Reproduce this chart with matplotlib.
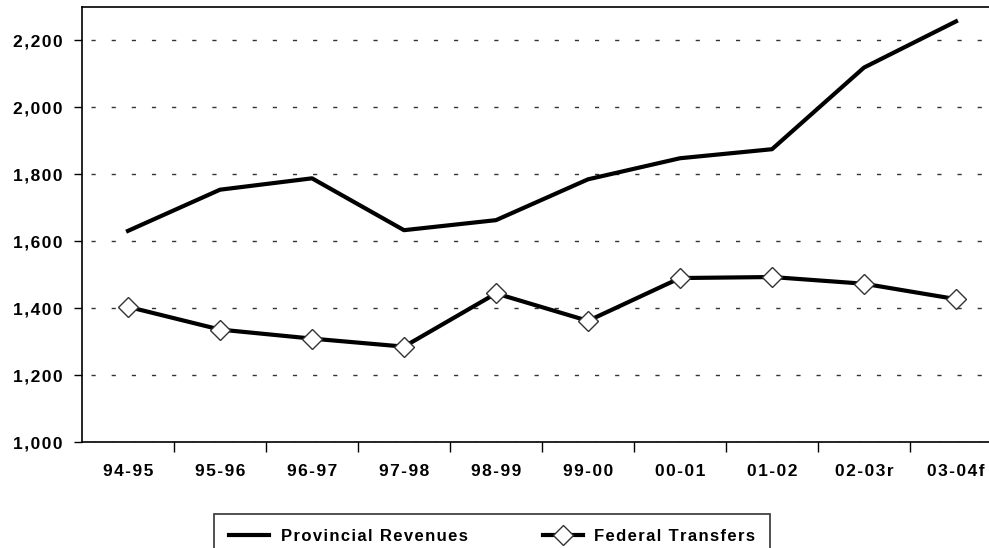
import matplotlib
matplotlib.use("Agg")
import matplotlib.pyplot as plt

plt.rcParams['font.family'] = ['Liberation Sans', 'DejaVu Sans']

years = ['94-95', '95-96', '96-97', '97-98', '98-99', '99-00',
         '00-01', '01-02', '02-03r', '03-04f']
provincial = [1631, 1754, 1788, 1633, 1663, 1785, 1848, 1875, 2119, 2257]
federal = [1404, 1336, 1309, 1285, 1444, 1362, 1490, 1493, 1473, 1427]
y_ticks = [1000, 1200, 1400, 1600, 1800, 2000, 2200]


def spaced(s):
    # the original uses wide letter spacing, fake it with hair spaces
    return '\u200a'.join(s)


fig = plt.figure(figsize=(9.89, 5.48), dpi=100)
ax = fig.add_axes([82 / 989, 106 / 548, 920 / 989, 435 / 548])

x = list(range(len(years)))
ax.plot(x, provincial, color='black', lw=3, label=spaced('Provincial Revenues'))
ax.plot(x, federal, color='black', lw=3, marker='D', ms=10,
        mfc='white', mec='#333333', mew=1, label=spaced('Federal Transfers'))

ax.set_xlim(-0.5, len(years) - 0.5)
ax.set_ylim(1000, 2300)
ax.set_yticks(y_ticks)
ax.set_yticklabels([spaced(f'{v:,}') for v in y_ticks])
ax.set_xticks(x)
ax.set_xticklabels([spaced(y) for y in years])
ax.set_xticks([i + 0.5 for i in x[:-1]], minor=True)

ax.tick_params(axis='x', which='major', length=0, pad=16)
ax.tick_params(axis='x', which='minor', length=7, direction='out', width=1)
ax.tick_params(axis='y', length=6, width=1, pad=8)
for lab in ax.get_xticklabels() + ax.get_yticklabels():
    lab.set_fontweight('bold')
    lab.set_fontsize(12.5)

ax.yaxis.grid(True, linestyle=(8, (3, 11.5)), color='#333333', lw=1)
ax.set_axisbelow(True)
for s in ax.spines.values():
    s.set_linewidth(1.2)

leg = fig.legend(loc='upper left', bbox_to_anchor=(214 / 989, 1 - 514 / 548),
                 ncol=2, frameon=True, fancybox=False, edgecolor='black',
                 prop={'weight': 'bold', 'size': 12}, handlelength=2.4,
                 handletextpad=0.7, columnspacing=4.5, borderpad=0.9,
                 borderaxespad=0)
leg.get_frame().set_linewidth(1.2)

fig.savefig('out.png', dpi=100)
